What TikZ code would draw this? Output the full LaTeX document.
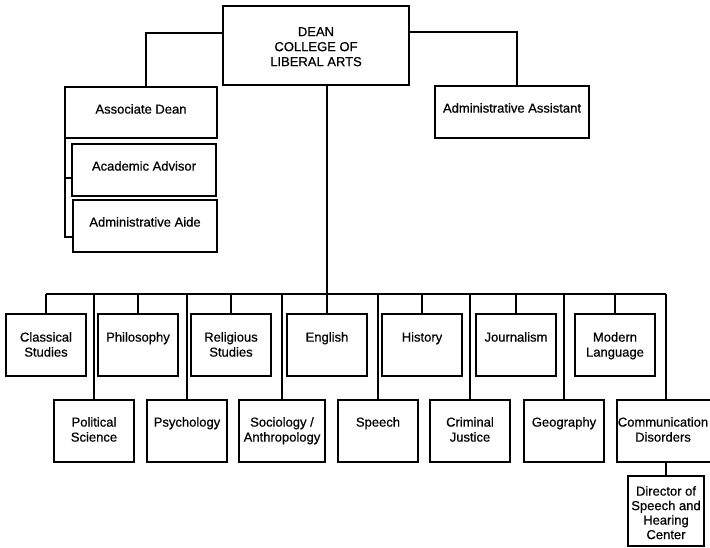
\documentclass[tikz,border=0pt]{standalone}
\usepackage{fontspec}
\setmainfont{Liberation Sans}[FakeBold=0.6]
\usetikzlibrary{calc}
\begin{document}
\begin{tikzpicture}[x=1pt,y=-1pt,
  box/.style={draw, line width=2pt, inner sep=0pt, minimum width=#1pt, minimum height=62pt},
  box/.default=80,
  txt/.style={anchor=north, inner sep=0pt, align=center,
    font=\fontsize{13}{15}\selectfont, yshift=-#1pt},
  txt/.default=19,
  link/.style={line width=2pt}
]
\useasboundingbox (0,0) rectangle (710,548);

% Office of the dean
\node[box=186, minimum height=79pt,
  label={[txt=22]north:{DEAN\\COLLEGE OF\\LIBERAL ARTS}}] (dean) at (316,45.5) {};
\node[box=152, minimum height=51pt, label={[txt=18]north:Associate Dean}] (assoc) at (141,112.5) {};
\node[box=144, minimum height=52pt, label={[txt=18]north:Academic Advisor}] (advisor) at (144,170) {};
\node[box=144, minimum height=52pt, label={[txt=18]north:Administrative Aide}] (aide) at (145,226) {};
\node[box=154, minimum height=52pt, label={[txt=18]north:Administrative Assistant}] (asst) at (512,112) {};

% Departments, upper row
\node[box, label={[txt]north:{Classical\\Studies}}] (cs) at (46,345) {};
\node[box, label={[txt]north:Philosophy}] (phil) at (138,345) {};
\node[box, label={[txt]north:{Religious\\Studies}}] (rel) at (231,345) {};
\node[box, label={[txt]north:English}] (eng) at (327,345) {};
\node[box, label={[txt]north:History}] (hist) at (422,345) {};
\node[box, label={[txt]north:Journalism}] (jour) at (516,345) {};
\node[box, label={[txt]north:{Modern\\Language}}] (ml) at (615,345) {};

% Departments, lower row
\node[box, label={[txt=18]north:{Political\\Science}}] (pol) at (94,431) {};
\node[box, label={[txt=18]north:Psychology}] (psy) at (187,431) {};
\node[box=86, label={[txt=18]north:{Sociology /\\Anthropology}}] (soc) at (282,431) {};
\node[box, label={[txt=18]north:Speech}] (sp) at (378,431) {};
\node[box, label={[txt=18]north:{Criminal\\Justice}}] (cj) at (470,431) {};
\node[box, label={[txt=18]north:Geography}] (geo) at (564,431) {};
\node[box=98, label={[txt=18, xshift=-3pt]north:{Communication\\Disorders}}] (cd) at (666,431) {};
\node[box=76, minimum height=70pt,
  label={[txt=11, font=\fontsize{13}{14.5}\selectfont]north:{Director of\\Speech and\\Hearing\\Center}}] (dir) at (666,511) {};

% Staff lines
\coordinate (dl) at ($(dean.north west)+(0,28)$);
\draw[link] (dl) -| ($(assoc.north)+(5,0)$);
\coordinate (dr) at ($(dean.north east)+(0,27)$);
\draw[link] (dr) -| ($(asst.north)+(5,0)$);
\coordinate (al) at ($(assoc.south west)+(1,0)$);
\coordinate (advin) at ($(advisor.west)+(0,8)$);
\coordinate (aidein) at ($(aide.west)+(0,11)$);
\draw[link] (al) |- (aidein);
\draw[link] (advin) -- (advin -| al);

% Department lines
\coordinate (bus) at (0,294);
\draw[link] (dean.south -| eng.north) -- (eng.north);
\draw[link] (cs.north |- bus) -- (cd.north |- bus);
\foreach \n in {cs,phil,rel,hist,jour,ml,pol,psy,soc,sp,cj,geo,cd}
  \draw[link] (\n.north |- bus) -- (\n.north);
\draw[link] (cd.south) -- (dir.north);
\end{tikzpicture}
\end{document}
